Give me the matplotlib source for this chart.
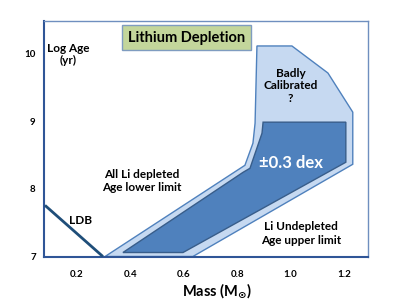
import numpy as np
import matplotlib
matplotlib.use("Agg")
import matplotlib.pyplot as plt
from matplotlib.patches import Polygon

plt.rcParams['font.family'] = ['Lato', 'DejaVu Sans']
plt.rcParams['font.weight'] = 'bold'

# outer band (light) - mass, log age
band_mass = [0.305, 0.829, 0.859, 0.867, 0.874, 1.005, 1.140, 1.233, 1.233, 0.634]
band_age = [7.0, 8.348, 8.674, 8.970, 10.111, 10.111, 9.711, 9.133, 8.363, 7.0]

# inner band (dark, +-0.3 dex)
core_mass = [0.372, 0.822, 0.848, 0.893, 0.897, 1.207, 1.207, 0.597]
core_age = [7.059, 8.244, 8.304, 8.822, 8.985, 8.985, 8.393, 7.059]

# lithium depletion boundary line
ldb_mass = [0.080, 0.297]
ldb_age = [7.756, 7.0]

xticks = [0.2, 0.4, 0.6, 0.8, 1.0, 1.2]
yticks = [7, 8, 9, 10]

fig = plt.figure(figsize=(3.98, 2.99), dpi=100)
ax = fig.add_axes([0.1106, 0.1421, 0.814, 0.7877])
ax.set_xlim(0.0764, 1.290)
ax.set_ylim(7.0, 10.48)

light = Polygon(np.column_stack([band_mass, band_age]), closed=True,
                facecolor='#C6D9F1', edgecolor='#4F81BD', lw=1.0, zorder=2)
dark = Polygon(np.column_stack([core_mass, core_age]), closed=True,
               facecolor='#4F81BD', edgecolor='#385D8A', lw=1.0, zorder=3)
ax.add_patch(light)
ax.add_patch(dark)
ax.plot(ldb_mass, ldb_age, color='#1F4E79', lw=2.0, zorder=4, solid_capstyle='butt')

for s in ['left', 'bottom']:
    ax.spines[s].set_color('#2F5597')
    ax.spines[s].set_linewidth(1.5)
for s in ['top', 'right']:
    ax.spines[s].set_color('#6F8FBF')
    ax.spines[s].set_linewidth(1.0)

ax.set_xticks(xticks)
ax.set_xticklabels(['%.1f' % t for t in xticks], fontsize=7, fontweight='bold')
ax.set_yticks(yticks)
ax.set_yticklabels([str(t) for t in yticks], fontsize=7, fontweight='bold')
ax.tick_params(axis='x', length=0, pad=10)
ax.tick_params(axis='y', length=0, pad=6)
ax.set_xlabel(r'Mass (M$_{\odot}$)', fontsize=10.5, fontweight='bold')
ax.xaxis.set_label_coords(0.534, -0.105)

ax.text(0.166, 9.99, 'Log Age\n(yr)', ha='center', va='center', fontsize=8.5,
        fontweight='bold', linespacing=1.1)
ax.text(0.61, 10.23, 'Lithium Depletion', ha='center', va='center', fontsize=10.5,
        fontweight='bold',
        bbox=dict(boxstyle='square,pad=0.38', facecolor='#C3D69B', edgecolor='#7F9CC0', lw=1.0))
ax.text(1.00, 9.52, 'Badly\nCalibrated\n?', ha='center', va='center', fontsize=8.5,
        fontweight='bold', linespacing=1.15, zorder=5)
ax.text(1.00, 8.38, '\u00b10.3 dex', ha='center', va='center', fontsize=12,
        fontweight='bold', color='white', zorder=5)
ax.text(0.441, 8.12, 'All Li depleted\nAge lower limit', ha='center', va='center',
        fontsize=8.5, fontweight='bold', linespacing=1.25, zorder=5)
ax.text(1.04, 7.34, 'Li Undepleted\nAge upper limit', ha='center', va='center',
        fontsize=8.5, fontweight='bold', linespacing=1.25, zorder=5)
ax.text(0.212, 7.53, 'LDB', ha='center', va='center', fontsize=8.5,
        fontweight='bold', zorder=5)

fig.savefig('out.png', dpi=100)
